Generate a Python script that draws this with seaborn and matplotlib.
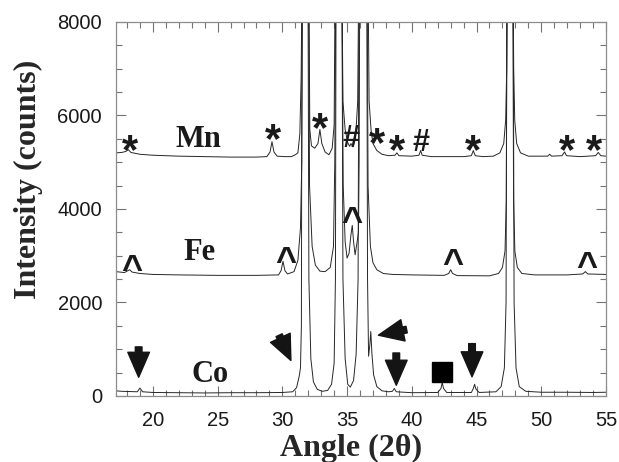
import numpy as np
import pandas as pd
import seaborn as sns
import matplotlib.pyplot as plt
from matplotlib.ticker import MultipleLocator

# XRD traces (angle in 2theta, counts)
co_angle = [17.15, 17.6, 18.2, 18.8, 19.0, 19.2, 20.0, 22.0, 24.0, 26.0, 28.0, 30.0, 30.8, 31.1,
            31.3, 31.4, 31.47, 31.52, 31.75, 31.98, 32.05, 32.2, 32.4, 32.7, 33.1, 33.5, 33.8,
            34.0, 34.1, 34.15, 34.36, 34.6, 34.68, 34.85, 35.05, 35.25, 35.5, 35.7, 35.85, 35.92,
            36.22, 36.52, 36.58, 36.66, 36.76, 36.83, 36.92, 37.05, 37.3, 37.7, 38.2, 38.5, 38.65,
            38.8, 40.0, 42.0, 42.25, 42.35, 42.45, 42.7, 44.6, 44.75, 44.85, 44.95, 45.2, 46.5,
            46.9, 47.15, 47.28, 47.34, 47.58, 47.83, 47.9, 48.05, 48.3, 48.8, 50.0, 52.0, 54.0, 55.0]
co_counts = [110, 100, 95, 90, 170, 90, 75, 70, 65, 70, 70, 75, 90, 180,
             420, 600, 1500, 9000, 20000, 9000, 2500, 800, 300, 140, 100, 120, 250,
             700, 2500, 9000, 20000, 9000, 2500, 800, 250, 190, 330, 900, 2500, 9000,
             20000, 9000, 2500, 850, 1100, 1380, 900, 450, 200, 110, 90, 100, 160,
             90, 70, 75, 160, 290, 160, 75, 75, 160, 250, 150, 75, 90,
             200, 600, 2000, 9000, 20000, 9000, 2000, 600, 200, 100, 80, 80, 75, 80]

fe_angle = [17.15, 17.8, 18.2, 18.4, 19.0, 20.0, 22.0, 25.0, 28.0, 29.7, 29.9, 30.05, 30.2, 30.4,
            30.9, 31.2, 31.4, 31.5, 31.56, 31.78, 32.02, 32.1, 32.3, 32.55, 32.9, 33.3, 33.7,
            33.95, 34.05, 34.13, 34.36, 34.6, 34.7, 34.85, 35.0, 35.15, 35.3, 35.4, 35.5, 35.62,
            35.72, 35.8, 35.88, 35.93, 35.98, 36.25, 36.55, 36.62, 36.8, 37.0, 37.3, 37.8, 38.5,
            40.0, 42.5, 42.85, 43.0, 43.15, 43.5, 46.0, 46.7, 47.0, 47.2, 47.3, 47.36, 47.58,
            47.8, 47.86, 47.96, 48.15, 48.5, 49.5, 52.0, 53.2, 53.4, 53.6, 55.0]
fe_counts = [2660, 2640, 2700, 2650, 2620, 2600, 2590, 2580, 2580, 2590, 2680, 2880, 2680, 2610,
             2660, 2900, 3600, 5000, 9000, 22000, 9000, 4500, 3200, 2800, 2670, 2660, 2750,
             3200, 5000, 9000, 22000, 9000, 4500, 3300, 2950, 3050, 3450, 3650, 3300, 3020,
             3200, 3340, 3500, 5000, 9000, 22000, 9000, 4500, 3200, 2850, 2700, 2620, 2600,
             2590, 2580, 2620, 2700, 2620, 2575, 2570, 2620, 2750, 3100, 4200, 9000, 22000,
             9000, 4200, 3100, 2750, 2620, 2590, 2590, 2610, 2660, 2610, 2600]

mn_angle = [17.15, 17.6, 17.9, 18.1, 18.3, 19.0, 20.0, 22.0, 24.0, 26.0, 28.0, 28.8, 29.05, 29.2,
            29.35, 29.6, 30.2, 30.7, 31.0, 31.2, 31.35, 31.45, 31.52, 31.76, 32.05, 32.12, 32.25,
            32.5, 32.75, 32.9, 33.05, 33.3, 33.6, 33.85, 34.0, 34.08, 34.36, 34.6, 34.68, 34.85,
            35.05, 35.2, 35.3, 35.45, 35.65, 35.82, 35.9, 36.25, 36.62, 36.7, 36.85, 37.0, 37.3,
            37.7, 38.2, 38.7, 38.85, 39.0, 40.0, 40.55, 40.68, 40.8, 41.5, 44.0, 44.6, 44.75,
            44.9, 45.5, 46.3, 46.8, 47.1, 47.25, 47.33, 47.38, 47.6, 47.82, 47.87, 47.95, 48.1,
            48.4, 49.0, 50.5, 50.65, 50.8, 51.6, 51.8, 51.95, 53.0, 54.2, 54.4, 54.6, 55.0]
mn_counts = [5200, 5210, 5230, 5270, 5210, 5170, 5150, 5130, 5120, 5110, 5110, 5120, 5220, 5440,
             5220, 5130, 5120, 5120, 5160, 5200, 5600, 6800, 9000, 22000, 9000, 5700, 5350,
             5300, 5400, 5700, 5400, 5220, 5160, 5300, 5800, 9000, 22000, 9000, 6300, 5700,
             5420, 5340, 5400, 5330, 5500, 6300, 9000, 22000, 9000, 6300, 5700, 5400, 5250,
             5170, 5140, 5150, 5200, 5140, 5130, 5150, 5250, 5150, 5120, 5120, 5140, 5250,
             5140, 5120, 5130, 5200, 5400, 5900, 7000, 9000, 22000, 9000, 7000, 5900, 5400,
             5200, 5130, 5130, 5170, 5130, 5140, 5220, 5140, 5120, 5140, 5210, 5140, 5130]

# labels and peak markers
sample_names = ["Mn", "Fe", "Co"]
sample_label_x = [23.5, 23.6, 24.45]
sample_label_y = [5330, 2910, 300]

star_x = [18.22, 29.25, 32.9, 37.3, 38.88, 44.75, 51.97, 54.08]
star_y = [5476, 5722, 5946, 5626, 5476, 5476, 5476, 5476]
hash_x = [35.28, 40.69]
hash_y = [5547, 5476]
caret_x = [18.35, 30.3, 35.4, 43.2, 53.5]
caret_y = [2873, 3052, 3907, 3016, 2945]

# arrows: (tail x, tail y, tip x, tip y)
arrows = [(18.9, 1050, 18.9, 400),
          (38.8, 920, 38.8, 230),
          (44.65, 1120, 44.65, 410),
          (29.75, 1300, 30.66, 760),
          (39.6, 1420, 37.42, 1300)]
square_x = [42.35]
square_y = [510]

sns.set_style("ticks")
plt.rcParams["font.family"] = ["Liberation Sans", "DejaVu Sans"]

fig = plt.figure(figsize=(6.19, 4.62), dpi=100)
ax = fig.add_axes([0.1874, 0.1429, 0.7916, 0.8095])

traces = [(co_angle, co_counts), (fe_angle, fe_counts), (mn_angle, mn_counts)]
for a, c in traces:
    df = pd.DataFrame({"angle": a, "counts": c})
    sns.lineplot(data=df, x="angle", y="counts", ax=ax, color="0.15", linewidth=0.7,
                 sort=False, estimator=None)

ax.set_xlim(17.15, 55)
ax.set_ylim(0, 8000)
ax.xaxis.set_major_locator(MultipleLocator(5))
ax.xaxis.set_minor_locator(MultipleLocator(1))
ax.yaxis.set_major_locator(MultipleLocator(2000))
ax.yaxis.set_minor_locator(MultipleLocator(500))
ax.tick_params(which="both", direction="in", top=True, right=True, color="0.45",
               width=0.8, labelsize=14.5, labelcolor="0.1")
ax.tick_params(which="major", length=7)
ax.tick_params(which="minor", length=4)
ax.tick_params(axis="x", pad=11)
ax.tick_params(axis="y", pad=10)
for s in ax.spines.values():
    s.set_color("0.55")
    s.set_linewidth(0.9)

serif = ["Liberation Serif", "DejaVu Serif"]
ax.set_xlabel("Angle (2θ)", fontsize=23, fontweight="bold", family=serif)
ax.set_ylabel("Intensity (counts)", fontsize=23, fontweight="bold", family=serif)
ax.xaxis.set_label_coords(0.48, -0.102)
ax.yaxis.set_label_coords(-0.149, 0.578)

for name, x, y in zip(sample_names, sample_label_x, sample_label_y):
    ax.text(x, y, name, fontsize=22, fontweight="bold", family=serif,
            ha="center", va="baseline", color="0.1")

def mark(xs, ys, s, size, shift):
    for x, y in zip(xs, ys):
        ax.annotate(s, (x, y), xytext=(0, -shift), textcoords="offset points",
                    ha="center", va="center", fontsize=size, fontweight="bold", color="0.1")

mark(star_x, star_y, "*", 30, 9)
mark(hash_x, hash_y, "#", 22, 2)
mark(caret_x, caret_y, "^", 26, 6.5)

for x0, y0, x1, y1 in arrows:
    ax.annotate("", xy=(x1, y1), xytext=(x0, y0),
                arrowprops=dict(arrowstyle="simple,head_width=1.3,head_length=1.5,tail_width=0.4",
                                color="0.08", shrinkA=0, shrinkB=0, mutation_scale=12))

ax.plot(square_x, square_y, "s", color="black", markersize=15)

fig.savefig("out.png", dpi=100)
